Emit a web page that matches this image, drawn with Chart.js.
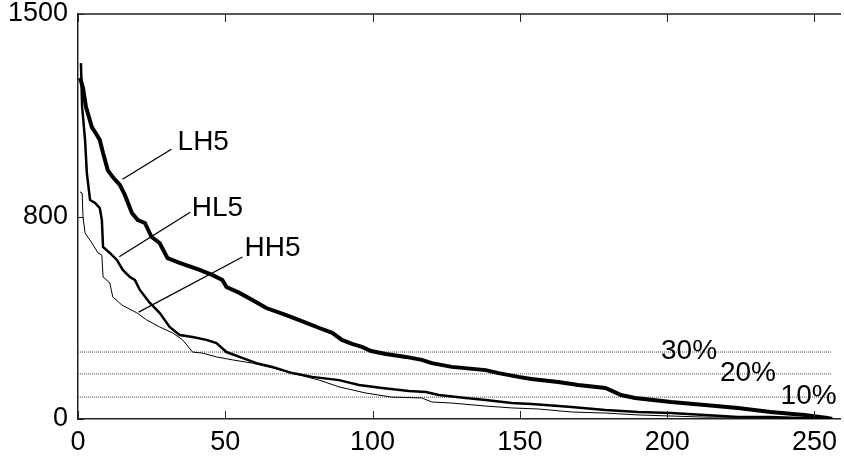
<!DOCTYPE html>
<html>
<head>
<meta charset="utf-8">
<script src="https://cdn.jsdelivr.net/npm/chart.js@4/dist/chart.umd.min.js"></script>
<style>
  html, body { margin: 0; padding: 0; background: #fff; }
  canvas { display: block; }
</style>
</head>
<body>
<canvas id="myChart" width="844" height="462"></canvas>
<script>
// values (rank on x, value on y)
const lh5X = [0.7, 1.7, 2.7, 4.7, 6.4, 7.4, 8.5, 10.1, 11.8, 14.2, 15.9, 18.3, 20.3, 22.7, 25, 27.7, 30.4, 34.5, 41.3, 45.7,
              49, 50.4, 54.8, 59.2, 63.9, 70.7, 77.5, 81.9, 86.3, 89.6, 93, 96.4, 99.5, 104.5, 111.3, 116.7, 120.1, 126.9, 138.4, 142.8,
              149.5, 153.9, 163, 169.8, 179, 184.4, 189.1, 201.3, 212.8, 224, 235.1, 246.6, 254.4, 256];
const lh5Y = [1263, 1226, 1156, 1081, 1052, 1033, 985, 922, 896, 867, 830, 763, 737, 726, 674, 652, 596, 578, 552, 533,
              515, 489, 467, 441, 411, 385, 356, 337, 319, 293, 278, 267, 252, 241, 230, 219, 207, 193, 181, 170,
              156, 148, 137, 126, 115, 89, 78, 63, 52, 41, 26, 15, 4, 0];

const hl5X = [1, 1.4, 2.4, 3, 4.1, 5.8, 7.4, 8.1, 8.5, 10.8, 13.2, 15.2, 17.6, 19.3, 21, 24.4, 27.7, 31.1, 34.5, 38.9,
              43.6, 47, 50.4, 54.8, 60.6, 66, 72.7, 79.5, 88.6, 95.4, 103.2, 112.3, 118.1, 122.5, 131.6, 138.4, 147.2, 153.9, 163.1, 167.5,
              179, 190.1, 201.3, 212.8, 224, 235.1, 254.4];
const hl5Y = [1318, 1156, 1033, 911, 811, 800, 781, 737, 637, 615, 589, 552, 526, 515, 478, 430, 393, 341, 311, 304,
              293, 281, 248, 230, 207, 193, 170, 156, 144, 126, 115, 104, 100, 89, 78, 70, 59, 56, 48, 44,
              33, 26, 22, 15, 7, 7, 0];

const hh5X = [0.7, 1.4, 1.7, 2.4, 4.7, 6.8, 8.1, 8.5, 10.8, 11.8, 14.9, 20, 23.3, 27.7, 32.1, 35.5, 38.9, 42.3, 47, 52.4,
              59.2, 66, 72.7, 81.9, 88.6, 97.8, 106.6, 116.7, 120.1, 126.9, 138.4, 147.2, 156.3, 167.5, 179, 190.1, 201.3, 212.8, 224, 254.4];
const hh5Y = [841, 837, 748, 689, 652, 615, 607, 526, 504, 452, 422, 393, 367, 341, 319, 293, 248, 244, 230, 219,
              207, 189, 170, 144, 119, 96, 81, 78, 63, 59, 48, 41, 37, 26, 22, 15, 11, 7, 7, 0];

// threshold levels
const levelLabels = ['30%', '20%', '10%'];
const levelValues = [248, 167, 81];
const levelEnd = 256;

// ticks; the reference puts its "800" mark at the middle of the axis
const xTicks = [0, 50, 100, 150, 200, 250];
const yTickValues = [0, 750, 1500];
const yTickLabels = ['0', '800', '1500'];

const FONT = '"Liberation Sans", Arial, Helvetica, sans-serif';

function pts(xs, ys) {
    return xs.map((x, i) => ({ x: x, y: ys[i] }));
}

const levelSets = levelValues.map((v, i) => ({
    label: levelLabels[i],
    data: [{ x: 0, y: v }, { x: levelEnd, y: v }],
    borderColor: '#444',
    borderWidth: 1,
    borderDash: [1, 1],
    pointRadius: 0,
    order: 10
}));

// text labels and leader lines, in data coordinates
const notes = [
    { text: 'LH5', x: 33.8, y: 1026, from: [15.1, 888], to: [31.7, 999] },
    { text: 'HL5', x: 38.6, y: 781, from: [14, 601], to: [38.1, 766] },
    { text: 'HH5', x: 56.5, y: 633, from: [20.6, 396], to: [55.8, 600] },
    { text: levelLabels[0], x: 197.9, y: 252 },
    { text: levelLabels[1], x: 217.9, y: 170 },
    { text: levelLabels[2], x: 238.5, y: 85 }
];

const decor = {
    id: 'decor',
    afterDatasetsDraw(chart) {
        const ctx = chart.ctx;
        const a = chart.chartArea;
        const xs = chart.scales.x, ys = chart.scales.y;
        ctx.save();
        // top frame line
        ctx.strokeStyle = '#222';
        ctx.lineWidth = 1.5;
        ctx.beginPath();
        ctx.moveTo(a.left, a.top);
        ctx.lineTo(a.right, a.top);
        ctx.stroke();
        // inward ticks
        ctx.lineWidth = 1;
        ctx.beginPath();
        xTicks.forEach(v => {
            const px = Math.round(xs.getPixelForValue(v)) + 0.5;
            ctx.moveTo(px, a.bottom); ctx.lineTo(px, a.bottom - 8);
            ctx.moveTo(px, a.top); ctx.lineTo(px, a.top + 8);
        });
        yTickValues.forEach(v => {
            const py = Math.round(ys.getPixelForValue(v)) + 0.5;
            ctx.moveTo(a.left, py); ctx.lineTo(a.left + 6, py);
        });
        ctx.stroke();
        // leader lines
        ctx.strokeStyle = '#000';
        ctx.lineWidth = 1.3;
        notes.forEach(n => {
            if (!n.from) return;
            ctx.beginPath();
            ctx.moveTo(xs.getPixelForValue(n.from[0]), ys.getPixelForValue(n.from[1]));
            ctx.lineTo(xs.getPixelForValue(n.to[0]), ys.getPixelForValue(n.to[1]));
            ctx.stroke();
        });
        // labels
        ctx.fillStyle = '#000';
        ctx.font = '28px ' + FONT;
        ctx.textAlign = 'left';
        ctx.textBaseline = 'middle';
        notes.forEach(n => {
            ctx.fillText(n.text, xs.getPixelForValue(n.x), ys.getPixelForValue(n.y));
        });
        ctx.restore();
    }
};

new Chart(document.getElementById('myChart').getContext('2d'), {
    type: 'line',
    data: {
        datasets: [
            { label: 'LH5', data: pts(lh5X, lh5Y), borderColor: '#000', borderWidth: 4, pointRadius: 0, order: 1 },
            { label: 'HL5', data: pts(hl5X, hl5Y), borderColor: '#000', borderWidth: 2.5, pointRadius: 0, order: 2 },
            { label: 'HH5', data: pts(hh5X, hh5Y), borderColor: '#000', borderWidth: 1, pointRadius: 0, order: 3 },
            ...levelSets
        ]
    },
    options: {
        responsive: false,
        animation: false,
        layout: { padding: { top: 0, right: 0, left: 0, bottom: 0 } },
        plugins: { legend: { display: false }, tooltip: { enabled: false } },
        elements: { line: { tension: 0 } },
        scales: {
            x: {
                type: 'linear',
                min: 0,
                max: 259,
                afterFit(scale) { scale.height = 43; },
                afterBuildTicks(scale) { scale.ticks = xTicks.map(v => ({ value: v })); },
                grid: { display: false, drawTicks: false },
                border: { display: true, color: '#222', width: 1.5 },
                ticks: { color: '#000', padding: 7, maxRotation: 0, font: { family: FONT, size: 27 } }
            },
            y: {
                min: 0,
                max: 1500,
                afterFit(scale) {
                    scale.width = 78;
                    scale.paddingTop = 14;
                },
                afterBuildTicks(scale) { scale.ticks = yTickValues.map(v => ({ value: v })); },
                grid: { display: false, drawTicks: false },
                border: { display: true, color: '#222', width: 1.5 },
                ticks: {
                    color: '#000',
                    padding: 10,
                    font: { family: FONT, size: 27 },
                    callback: (v) => yTickLabels[yTickValues.indexOf(v)]
                }
            }
        }
    },
    plugins: [decor]
});
</script>
</body>
</html>
